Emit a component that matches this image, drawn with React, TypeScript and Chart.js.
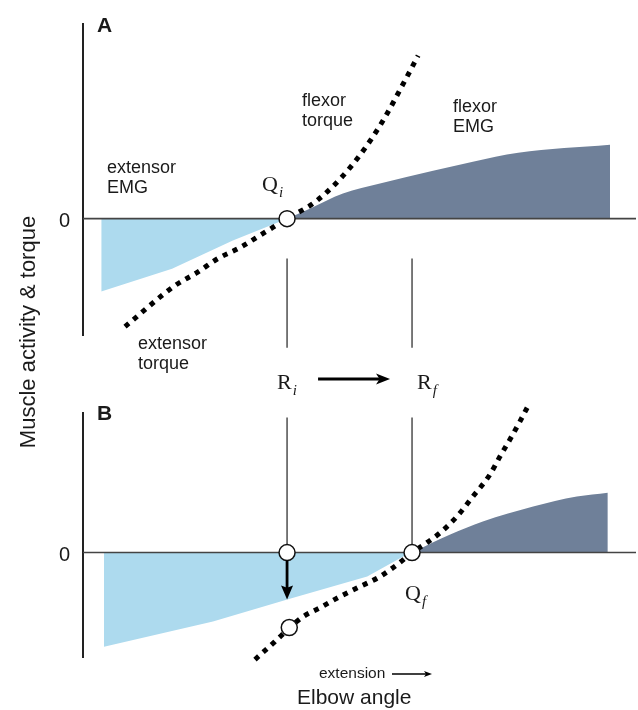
import React, { useEffect, useRef } from "react";
import { Chart, registerables } from "chart.js";
Chart.register(...registerables);

// Shared elbow-angle axis (arbitrary units)
const X_MIN = 0;
const X_MAX = 100;
const R_I = 36.9; // initial referent / threshold position
const R_F = 59.5; // final referent position

// ---------- Panel A ----------
const A_Y_MIN = -6;
const A_Y_MAX = 10;
const extEmgA_x = [3.3, 16.1, 27.1, 36.9];
const extEmgA_y = [-3.73, -2.56, -1.12, 0];
const flexEmgA_x = [36.9, 41.0, 47.0, 53.7, 63.3, 70.5, 78.7, 95.3];
const flexEmgA_y = [0, 0.51, 1.28, 1.79, 2.45, 2.91, 3.37, 3.78];
const torqueA_x = [7.6, 16.6, 20.6, 24.4, 28.4, 32.5, 36.9, 42.3, 48.3, 53.7, 58.6, 60.6];
const torqueA_y = [-5.52, -3.43, -2.76, -2.04, -1.48, -0.77, 0, 0.92, 2.61, 4.75, 7.26, 8.33];
const circlesA_x = [36.9];
const circlesA_y = [0];
const guideA_y = [-2.04, -6.6];

// ---------- Panel B ----------
const B_Y_MIN = -5.4;
const B_Y_MAX = 7.2;
const extEmgB_x = [3.8, 23.5, 37.4, 51.4, 57.9, 59.5];
const extEmgB_y = [-4.82, -3.53, -2.36, -1.23, -0.2, 0];
const flexEmgB_x = [59.5, 66.4, 72.3, 81.4, 89.3, 94.9];
const flexEmgB_y = [0, 0.92, 1.59, 2.36, 2.87, 3.07];
const torqueB_x = [31.1, 34.7, 37.4, 39.8, 42.9, 46.5, 50.1, 53.7, 57.3, 59.5, 62.2, 64.6, 67.6, 70.5, 73.6, 75.4, 77.2, 79.0, 80.8];
const torqueB_y = [-5.48, -4.56, -3.84, -3.28, -2.82, -2.25, -1.74, -1.23, -0.51, 0, 0.51, 1.02, 1.84, 2.87, 4.0, 4.92, 5.79, 6.71, 7.68];
const circlesB_x = [36.9, 37.3, 59.5];
const circlesB_y = [0, -3.84, 0];
const guideB_y = [6.92, 0.41];
const dropArrowB_y = [-0.41, -2.41];

const LIGHT_BLUE = "rgb(173,218,238)";
const SLATE = "rgb(111,128,153)";
const SANS = '"Liberation Sans", Arial, Helvetica, sans-serif';
const SERIF = '"Liberation Serif", "Times New Roman", serif';
const TXT = "#1a1a1a";

const pts = (xs: number[], ys: number[]) => xs.map((x, i) => ({ x, y: ys[i] }));

function arrow(ctx: CanvasRenderingContext2D, x1: number, y1: number, x2: number, y2: number, lw: number, hl: number, hw: number, notch = 0.75) {
  const ang = Math.atan2(y2 - y1, x2 - x1);
  const bx = x2 - Math.cos(ang) * hl;
  const by = y2 - Math.sin(ang) * hl;
  ctx.save();
  ctx.strokeStyle = "#000";
  ctx.fillStyle = "#000";
  ctx.lineWidth = lw;
  ctx.beginPath();
  ctx.moveTo(x1, y1);
  ctx.lineTo(x2 - Math.cos(ang) * hl * 0.5, y2 - Math.sin(ang) * hl * 0.5);
  ctx.stroke();
  ctx.beginPath();
  ctx.moveTo(x2, y2);
  ctx.lineTo(bx - Math.sin(ang) * hw / 2, by + Math.cos(ang) * hw / 2);
  ctx.lineTo(x2 - Math.cos(ang) * hl * notch, y2 - Math.sin(ang) * hl * notch);
  ctx.lineTo(bx + Math.sin(ang) * hw / 2, by - Math.cos(ang) * hw / 2);
  ctx.closePath();
  ctx.fill();
  ctx.restore();
}

function text(ctx: CanvasRenderingContext2D, s: string, x: number, y: number, font: string, align: CanvasTextAlign = "left") {
  ctx.save();
  ctx.font = font;
  ctx.fillStyle = TXT;
  ctx.textAlign = align;
  ctx.textBaseline = "alphabetic";
  ctx.fillText(s, x, y);
  ctx.restore();
}

function subLabel(ctx: CanvasRenderingContext2D, main: string, sub: string, x: number, y: number) {
  ctx.save();
  ctx.font = `22px ${SERIF}`;
  ctx.fillStyle = TXT;
  ctx.textBaseline = "alphabetic";
  ctx.fillText(main, x, y);
  const w = ctx.measureText(main).width;
  ctx.font = `italic 15px ${SERIF}`;
  ctx.fillText(sub, x + w + 1, y + 6);
  ctx.restore();
}

function makeDatasets(ext: any[], flex: any[], torque: any[], circles: any[], guides: any[][]) {
  const ds: any[] = [
    {
      data: circles, showLine: false, pointRadius: 8, pointHoverRadius: 8,
      pointBackgroundColor: "#fff", pointBorderColor: "#111", pointBorderWidth: 1.5,
      order: 0, clip: false,
    },
    {
      data: torque, borderColor: "#000", borderWidth: 5, borderDash: [5, 6], borderCapStyle: "butt",
      pointRadius: 0, cubicInterpolationMode: "monotone", fill: false, order: 1, clip: false,
    },
    ...guides.map((g) => ({
      data: g, borderColor: "#333", borderWidth: 1.3, pointRadius: 0, fill: false, order: 2, clip: false,
    })),
    {
      data: [{ x: X_MIN, y: 0 }, { x: X_MAX, y: 0 }], borderColor: "#444", borderWidth: 1.6,
      pointRadius: 0, fill: false, order: 3,
    },
    {
      data: ext, borderWidth: 0, borderColor: "rgba(0,0,0,0)", backgroundColor: LIGHT_BLUE,
      fill: "origin", pointRadius: 0, order: 4, tension: 0,
    },
    {
      data: flex, borderWidth: 0, borderColor: "rgba(0,0,0,0)", backgroundColor: SLATE,
      fill: "origin", pointRadius: 0, order: 4, cubicInterpolationMode: "monotone",
    },
  ];
  return ds;
}

function baseOptions(yMin: number, yMax: number, padding: any) {
  return {
    responsive: false,
    animation: false as const,
    devicePixelRatio: 1,
    layout: { padding, autoPadding: false },
    events: [],
    scales: {
      x: { type: "linear" as const, min: X_MIN, max: X_MAX, display: false },
      y: { type: "linear" as const, min: yMin, max: yMax, display: false },
    },
    plugins: { legend: { display: false }, tooltip: { enabled: false } },
  };
}

const axisPlugin = {
  id: "yAxisLine",
  beforeDatasetsDraw(chart: any) {
    const { ctx, chartArea } = chart;
    ctx.save();
    ctx.strokeStyle = "#222";
    ctx.lineWidth = 2;
    ctx.beginPath();
    ctx.moveTo(chartArea.left, chartArea.top);
    ctx.lineTo(chartArea.left, chartArea.bottom);
    ctx.stroke();
    ctx.restore();
  },
};

const textPluginA = {
  id: "textA",
  afterDraw(chart: any) {
    const ctx = chart.ctx as CanvasRenderingContext2D;
    const xs = chart.scales.x;
    const ys = chart.scales.y;
    const y0 = ys.getPixelForValue(0);
    text(ctx, "A", 97, 32, `bold 21px ${SANS}`);
    text(ctx, "0", 70, y0 + 8, `20px ${SANS}`, "right");
    text(ctx, "extensor", 107, 173, `18px ${SANS}`);
    text(ctx, "EMG", 107, 193, `18px ${SANS}`);
    text(ctx, "flexor", 302, 106, `18px ${SANS}`);
    text(ctx, "torque", 302, 126, `18px ${SANS}`);
    text(ctx, "flexor", 453, 112, `18px ${SANS}`);
    text(ctx, "EMG", 453, 132, `18px ${SANS}`);
    text(ctx, "extensor", 138, 349, `18px ${SANS}`);
    text(ctx, "torque", 138, 369, `18px ${SANS}`);
    subLabel(ctx, "Q", "i", 262, 191);
    const ri = xs.getPixelForValue(R_I);
    const rf = xs.getPixelForValue(R_F);
    subLabel(ctx, "R", "i", ri - 10, 389);
    subLabel(ctx, "R", "f", rf + 5, 389);
    arrow(ctx, ri + 31, 379, rf - 22, 379, 3, 14, 11);
    // y-axis title
    ctx.save();
    ctx.translate(35, 332);
    ctx.rotate(-Math.PI / 2);
    ctx.font = `22px ${SANS}`;
    ctx.fillStyle = TXT;
    ctx.textAlign = "center";
    ctx.textBaseline = "alphabetic";
    ctx.fillText("Muscle activity & torque", 0, 0);
    ctx.restore();
  },
};

const textPluginB = {
  id: "textB",
  afterDraw(chart: any) {
    const ctx = chart.ctx as CanvasRenderingContext2D;
    const xs = chart.scales.x;
    const ys = chart.scales.y;
    const y0 = ys.getPixelForValue(0);
    text(ctx, "B", 97, 420, `bold 21px ${SANS}`);
    text(ctx, "0", 70, y0 + 8, `20px ${SANS}`, "right");
    const rf = xs.getPixelForValue(R_F);
    subLabel(ctx, "Q", "f", rf - 7, 600);
    const ri = xs.getPixelForValue(R_I);
    arrow(ctx, ri, ys.getPixelForValue(dropArrowB_y[0]), ri, ys.getPixelForValue(dropArrowB_y[1]), 2.8, 14, 12, 0.85);
    text(ctx, "extension", 319, 678, `15.5px ${SANS}`);
    arrow(ctx, 392, 674, 432, 674, 1.5, 8, 6);
    text(ctx, "Elbow angle", 297, 704, `21px ${SANS}`);
  },
};

export default function App() {
  const refA = useRef<HTMLCanvasElement | null>(null);
  const refB = useRef<HTMLCanvasElement | null>(null);

  useEffect(() => {
    const chartA = new Chart(refA.current as HTMLCanvasElement, {
      type: "line",
      data: {
        datasets: makeDatasets(
          pts(extEmgA_x, extEmgA_y),
          pts(flexEmgA_x, flexEmgA_y),
          pts(torqueA_x, torqueA_y),
          pts(circlesA_x, circlesA_y),
          [pts([R_I, R_I], guideA_y), pts([R_F, R_F], guideA_y)]
        ),
      },
      options: baseOptions(A_Y_MIN, A_Y_MAX, { left: 83, right: 2, top: 23, bottom: 374 }) as any,
      plugins: [axisPlugin, textPluginA],
    });
    const chartB = new Chart(refB.current as HTMLCanvasElement, {
      type: "line",
      data: {
        datasets: makeDatasets(
          pts(extEmgB_x, extEmgB_y),
          pts(flexEmgB_x, flexEmgB_y),
          pts(torqueB_x, torqueB_y),
          pts(circlesB_x, circlesB_y),
          [pts([R_I, R_I], guideB_y), pts([R_F, R_F], guideB_y)]
        ),
      },
      options: baseOptions(B_Y_MIN, B_Y_MAX, { left: 83, right: 2, top: 412, bottom: 52 }) as any,
      plugins: [axisPlugin, textPluginB],
    });
    return () => {
      chartA.destroy();
      chartB.destroy();
    };
  }, []);

  const cstyle: React.CSSProperties = { position: "absolute", left: 0, top: 0, width: 638, height: 710 };
  return (
    <div style={{ position: "absolute", left: 0, top: 0, width: 638, height: 710, background: "#fff" }}>
      <canvas ref={refA} width={638} height={710} style={cstyle} />
      <canvas ref={refB} width={638} height={710} style={cstyle} />
    </div>
  );
}
